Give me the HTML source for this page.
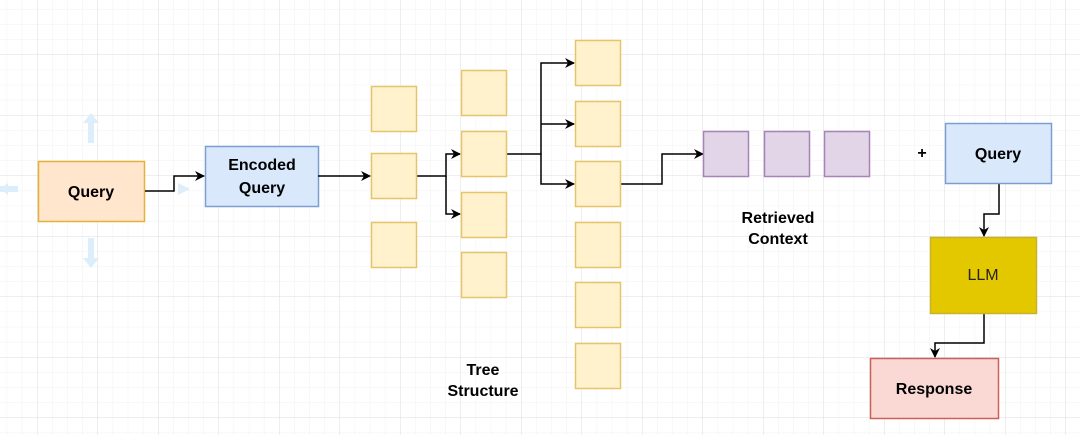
<!DOCTYPE html>
<html><head><meta charset="utf-8"><style>html,body{margin:0;padding:0;background:#fff}svg{display:block}</style></head>
<body>
<svg width="1080" height="435" xmlns="http://www.w3.org/2000/svg" font-family="Liberation Sans, Arial, sans-serif">
<defs>
<pattern id="minor" x="37" y="115" width="15.125" height="15.125" patternUnits="userSpaceOnUse"><path d="M0 0V15.125M0 0H15.125" stroke="#f0f0f0" stroke-width="1" fill="none"/></pattern>
<pattern id="major" x="37" y="115" width="60.5" height="60.5" patternUnits="userSpaceOnUse"><path d="M0 0V60.5M0 0H60.5" stroke="#dddddd" stroke-width="1" fill="none"/></pattern>
<marker id="ar" markerWidth="10" markerHeight="10" refX="9" refY="5" orient="auto" markerUnits="userSpaceOnUse"><path d="M0 0L10 5L0 10L3 5Z" fill="#000"/></marker>
</defs>
<rect width="1080" height="435" fill="#fff"/>
<rect width="1080" height="435" fill="url(#minor)"/>
<rect width="1080" height="435" fill="url(#major)"/>
<!-- light blue hover arrows -->
<g fill="#dceefb">
<path d="M91 113l8 10h-5v20h-6v-20h-5z"/>
<path d="M91 268l8-10h-5v-20h-6v20h-5z"/>
<path d="M0 186h18v6H0z M0 189l8-6v12z"/>
<path d="M178 183l12 6-12 6z"/>
</g>
<!-- query -->
<rect x="38.5" y="161.5" width="106" height="60" fill="#ffe6cc" stroke="#e6b13a" stroke-width="1.5"/>
<text x="91" y="197" font-size="16" font-weight="bold" text-anchor="middle">Query</text>
<rect x="205.5" y="146.5" width="113" height="60" fill="#dae8fc" stroke="#7d9fcf" stroke-width="1.5"/>
<text x="262" y="170" font-size="16" font-weight="bold" text-anchor="middle">Encoded</text>
<text x="262" y="193" font-size="16" font-weight="bold" text-anchor="middle">Query</text>
<g fill="none" stroke="#000" stroke-width="1.5">
<path d="M145 191H174V176H204" marker-end="url(#ar)"/>
<path d="M318 176H370" marker-end="url(#ar)"/>
<path d="M416 176H446V154H460" marker-end="url(#ar)"/>
<path d="M446 176V214H460" marker-end="url(#ar)"/>
<path d="M507 154H541V63H574" marker-end="url(#ar)"/>
<path d="M541 124H574" marker-end="url(#ar)"/>
<path d="M541 154V184H574" marker-end="url(#ar)"/>
<path d="M621 184H662V154H703" marker-end="url(#ar)"/>
<path d="M999 184V214H984V236" marker-end="url(#ar)"/>
<path d="M984 313V343H935V357" marker-end="url(#ar)"/>
</g>
<g fill="#fff2cc" stroke="#e6c56a" stroke-width="1.5">
<rect x="371.5" y="86.5" width="45" height="45"/>
<rect x="371.5" y="153.5" width="45" height="45"/>
<rect x="371.5" y="222.5" width="45" height="45"/>
<rect x="461.5" y="70.5" width="45" height="45"/>
<rect x="461.5" y="131.5" width="45" height="45"/>
<rect x="461.5" y="192.5" width="45" height="45"/>
<rect x="461.5" y="252.5" width="45" height="45"/>
<rect x="575.5" y="40.5" width="45" height="45"/>
<rect x="575.5" y="101.5" width="45" height="45"/>
<rect x="575.5" y="161.5" width="45" height="45"/>
<rect x="575.5" y="222.5" width="45" height="45"/>
<rect x="575.5" y="282.5" width="45" height="45"/>
<rect x="575.5" y="343.5" width="45" height="45"/>
</g>
<g fill="#e1d5e7" stroke="#a883b8" stroke-width="1.5">
<rect x="703.5" y="131.5" width="45" height="45"/>
<rect x="764.5" y="131.5" width="45" height="45"/>
<rect x="824.5" y="131.5" width="45" height="45"/>
</g>
<text x="483" y="375" font-size="16" font-weight="bold" text-anchor="middle">Tree</text>
<text x="483" y="396" font-size="16" font-weight="bold" text-anchor="middle">Structure</text>
<text x="778" y="223" font-size="16" font-weight="bold" text-anchor="middle">Retrieved</text>
<text x="778" y="244" font-size="16" font-weight="bold" text-anchor="middle">Context</text>
<text x="922" y="158" font-size="16" font-weight="bold" text-anchor="middle">+</text>
<rect x="945.5" y="123.5" width="106" height="60" fill="#dae8fc" stroke="#7d9fcf" stroke-width="1.5"/>
<text x="998" y="159" font-size="16" font-weight="bold" text-anchor="middle">Query</text>
<rect x="930.5" y="237.5" width="106" height="76" fill="#e3c800" stroke="#c9b22a" stroke-width="1.5"/>
<text x="983" y="280" font-size="16" text-anchor="middle" fill="#222">LLM</text>
<rect x="870.5" y="358.5" width="128" height="60" fill="#fad9d5" stroke="#c9615a" stroke-width="1.5"/>
<text x="934" y="394" font-size="16" font-weight="bold" text-anchor="middle">Response</text>
</svg>
</body></html>
